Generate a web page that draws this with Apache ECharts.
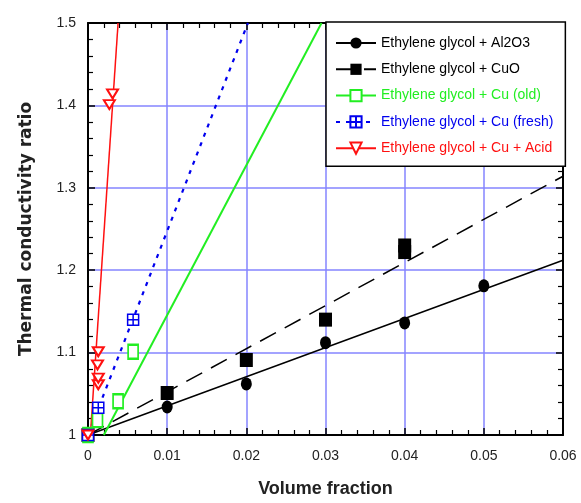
<!DOCTYPE html>
<html>
<head>
<meta charset="utf-8">
<script src="https://cdn.jsdelivr.net/npm/echarts@6/dist/echarts.min.js"></script>
<style>
html, body { margin: 0; padding: 0; background: #fff; }
#main { width: 581px; height: 503px; }
</style>
</head>
<body>
<div id="main"></div>
<script>
// measured points
var al2o3X = [0, 0.01, 0.02, 0.03, 0.04, 0.05];
var al2o3Y = [1.0, 1.034, 1.062, 1.112, 1.136, 1.181];
var cuoX = [0, 0.01, 0.02, 0.03, 0.04, 0.04];
var cuoY = [1.0, 1.051, 1.091, 1.140, 1.222, 1.230];
var cuOldX = [0, 0.0012, 0.0038, 0.0057];
var cuOldY = [1.0, 1.018, 1.041, 1.101];
var cuFreshX = [0, 0.0013, 0.0057];
var cuFreshY = [1.0, 1.033, 1.140];
var acidX = [0, 0.0013, 0.0013, 0.0012, 0.0013, 0.0027, 0.0031];
var acidY = [1.0, 1.061, 1.069, 1.085, 1.101, 1.401, 1.414];

// fitted lines (end points)
var al2o3FitX = [0, 0.06];
var al2o3FitY = [1.0, 1.212];
var cuoFitX = [0, 0.06];
var cuoFitY = [1.0, 1.314];
var cuOldFitX = [0.002, 0.0295];
var cuOldFitY = [1.0, 1.5];
var cuFreshFitX = [0, 0.0202];
var cuFreshFitY = [1.0, 1.5];
var acidFitX = [0.0003, 0.0038];
var acidFitY = [1.0, 1.5];

var names = ['Ethylene glycol + Al2O3', 'Ethylene glycol + CuO', 'Ethylene glycol + Cu (old)',
             'Ethylene glycol + Cu (fresh)', 'Ethylene glycol + Cu + Acid'];
var colors = ['#000000', '#000000', '#22ee22', '#0000ee', '#ff1010'];

function pairs(xs, ys) {
	var res = [];
	for (var i = 0; i < xs.length; i++) res.push([xs[i], ys[i]]);
	return res;
}

var boxCross = 'path://M0,0 L10,0 L10,10 L0,10 Z M5,0 L5,10 M0,5 L10,5';

var myChart = echarts.init(document.getElementById('main'));

function xAx(pos) {
	return {
		type : 'value',
		position : pos,
		min : 0,
		max : 0.06,
		interval : 0.01,
		axisLine : { show : true, onZero : false, lineStyle : { color : '#000', width : 2 } },
		axisTick : { show : true, inside : true, length : 7, lineStyle : { color : '#000', width : 1.5 } },
		minorTick : { show : true, splitNumber : 5, length : 5, lineStyle : { color : '#000', width : 1.2 } },
		splitLine : { show : pos == 'bottom', lineStyle : { color : '#8585ff', width : 1.5 } },
		axisLabel : { show : pos == 'bottom', margin : 14, color : '#222', fontSize : 14,
			fontFamily : 'Liberation Sans' },
		name : pos == 'bottom' ? 'Volume fraction' : '',
		nameLocation : 'middle',
		nameGap : 45,
		nameTextStyle : { fontSize : 18, fontWeight : 'bold', color : '#222', fontFamily : 'Liberation Sans' }
	};
}
function yAx(pos) {
	return {
		type : 'value',
		position : pos,
		min : 1.0,
		max : 1.5,
		interval : 0.1,
		axisLine : { show : true, onZero : false, lineStyle : { color : '#000', width : 2 } },
		axisTick : { show : true, inside : true, length : 7, lineStyle : { color : '#000', width : 1.5 } },
		minorTick : { show : true, splitNumber : 5, length : 5, lineStyle : { color : '#000', width : 1.2 } },
		splitLine : { show : pos == 'left', lineStyle : { color : '#8585ff', width : 1.5 } },
		axisLabel : { show : pos == 'left', margin : 12, color : '#222', fontSize : 14,
			fontFamily : 'Liberation Sans' },
		name : pos == 'left' ? 'Thermal conductivity ratio' : '',
		nameLocation : 'middle',
		nameGap : 53,
		nameTextStyle : { fontSize : 17, fontWeight : 'bold', color : '#222', fontFamily : 'DejaVu Sans' }
	};
}

var option = {
	animation : false,
	backgroundColor : '#fff',
	grid : { left : 88, right : 18, top : 23, bottom : 66 },
	xAxis : [ xAx('bottom'), xAx('top') ],
	yAxis : [ yAx('left'), yAx('right') ],
	legend : {
		orient : 'vertical',
		left : 326,
		top : 22,
		padding : [ 14, 12, 11, 9 ],
		backgroundColor : '#fff',
		borderColor : '#000',
		borderWidth : 1.5,
		borderRadius : 0,
		itemWidth : 40,
		itemHeight : 14,
		itemGap : 12.3,
		textStyle : { fontSize : 14, fontFamily : 'Liberation Sans' },
		data : names.map(function(n, i) {
			return { name : n, textStyle : { color : colors[i] } };
		})
	},
	series : []
};

// fitted lines carry the legend entries
var fits = [
	{ x : al2o3FitX, y : al2o3FitY, symbol : 'circle', type : 'solid', width : 1.5 },
	{ x : cuoFitX, y : cuoFitY, symbol : 'rect', type : [ 18, 10 ], width : 1.5 },
	{ x : cuOldFitX, y : cuOldFitY, symbol : 'emptyRect', type : 'solid', width : 2 },
	{ x : cuFreshFitX, y : cuFreshFitY, symbol : boxCross, type : [ 4, 6 ], width : 2.2 },
	{ x : acidFitX, y : acidFitY, symbol : 'emptyTriangle', type : 'solid', width : 1.5 }
];
fits.forEach(function(f, i) {
	option.series.push({
		name : names[i],
		type : 'line',
		data : pairs(f.x, f.y),
		symbol : f.symbol,
		symbolRotate : i == 4 ? 180 : 0,
		showSymbol : false,
		lineStyle : { color : colors[i], width : f.width, type : f.type },
		itemStyle : i == 3 ? { color : '#fff', borderColor : colors[i], borderWidth : 1.5 } : { color : colors[i] },
		z : 2
	});
});

// measured points
var pts = [
	{ x : al2o3X, y : al2o3Y, symbol : 'circle', size : [ 11, 13 ] },
	{ x : cuoX, y : cuoY, symbol : 'rect', size : [ 13, 14 ] },
	{ x : cuOldX, y : cuOldY, symbol : 'emptyRect', size : [ 10, 14 ] },
	{ x : cuFreshX, y : cuFreshY, symbol : boxCross, size : [ 11, 11 ] },
	{ x : acidX, y : acidY, symbol : 'emptyTriangle', size : [ 11, 9 ] }
];
pts.forEach(function(p, i) {
	option.series.push({
		name : names[i] + ' data',
		type : 'scatter',
		data : pairs(p.x, p.y),
		symbol : p.symbol,
		symbolSize : p.size,
		symbolRotate : i == 4 ? 180 : 0,
		itemStyle : (i == 3) ? { color : '#fff', borderColor : colors[i], borderWidth : 1.5, opacity : 1 }
			: (i == 2 || i == 4) ? { color : colors[i], borderWidth : 1.5, opacity : 1 }
			: { color : colors[i], opacity : 1 },
		z : 3 + i
	});
});

myChart.setOption(option);
</script>
</body>
</html>
